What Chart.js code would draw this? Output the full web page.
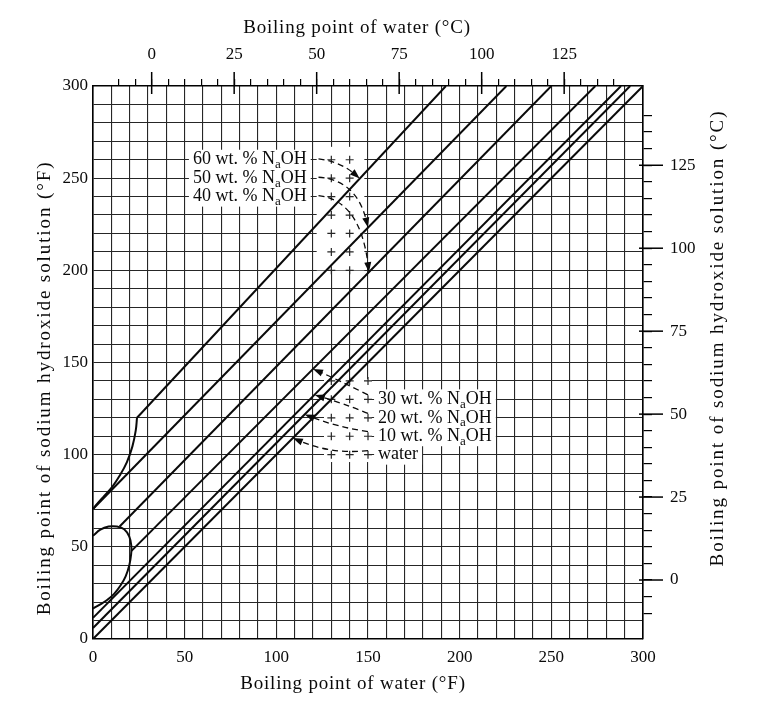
<!DOCTYPE html>
<html>
<head>
<meta charset="utf-8">
<script src="https://cdn.jsdelivr.net/npm/chart.js@4.4.1/dist/chart.umd.min.js"></script>
<style>
  html, body { margin: 0; padding: 0; background: #fff; }
</style>
</head>
<body>
<canvas id="duhring" width="776" height="710"></canvas>
<script>
// Dühring lines for NaOH solutions: boiling point of solution vs boiling point of water, both in °F
const waterPoints  = [[0, 0], [300, 300]]
const naoh10Points = [[0, 6], [293, 300]]
const naoh20Points = [[0, 11.5], [288, 300]]
const naoh30Points = [[21, 47.8], [274, 300]]
const naoh40Points = [[14.5, 61], [250, 300]]
const naoh50Points = [[0, 70.5], [225.5, 300]]
const naoh60Points = [[24, 120], [192.5, 300]]

// low temperature ends (curved limits)
const naoh60Curve = [[0, 70.5], [2, 73], [6, 77.5], [10.5, 82.5], [14.5, 88.5], [18.5, 96], [21.5, 104.5], [23.3, 113], [24, 120]]
const lowCurve = [[0, 56], [4, 59.3], [8.5, 61], [13, 61], [17, 59.5], [19.8, 55.5], [20.9, 50.5], [20.8, 46], [19.8, 40],
                  [17.8, 34], [15, 29], [11.5, 24.5], [7.5, 21], [3.5, 18.5], [0, 16.5]]

const fahrenheitLabelStep = 50
const celsiusLabelStep = 25
const celsiusMajorTicks = [0, 25, 50, 75, 100, 125]

// annotations (°F coordinates)
const noteLabels  = ["60 wt. % NaOH", "50 wt. % NaOH", "40 wt. % NaOH", "30 wt. % NaOH", "20 wt. % NaOH", "10 wt. % NaOH", "water"]
const noteAnchors = [[54.5, 260], [54.5, 250], [54.5, 240], [155.5, 130], [155.5, 120], [155.5, 110], [155.5, 100]]
// start, control, tip
const noteArrows = [
  [[123, 260.5], [135, 259], [145.5, 249.8]],
  [[123, 250.5], [144, 249], [150, 223.2]],
  [[123, 240.5], [146, 238], [150.5, 199]],
  [[150, 132.4], [135, 140], [120, 146.5]],
  [[150, 122.4], [136, 128], [121, 132.4]],
  [[150, 112.5], [133, 115], [115.5, 121.8]],
  [[150, 102.2], [130, 100], [109, 109]]
]
// blank zones with only grid crosses left: xmin, xmax, ymin, ymax
const arrowZones = [[122, 148, 200, 267], [126, 152, 96, 141]]

const fontFamily = "'Liberation Serif', 'Times New Roman', serif"
const gridColor = "#262626"
const inkColor = "#0a0a0a"
const toC = f => (f - 32) / 1.8

const lineDataset = (points, tension) => ({
  data: points.map(p => ({ x: p[0], y: p[1] })),
  showLine: true,
  borderColor: inkColor,
  borderWidth: 2,
  pointRadius: 0,
  tension: tension || 0,
  fill: false
})

function drawNote(ctx, label, px, py, draw) {
  const cut = label.indexOf("NaOH")
  const big = "18px " + fontFamily
  const small = "13px " + fontFamily
  ctx.font = big
  if (cut < 0) {
    if (draw) ctx.fillText(label, px, py)
    return ctx.measureText(label).width
  }
  const head = label.slice(0, cut + 1)
  let w = ctx.measureText(head).width
  if (draw) ctx.fillText(head, px, py)
  ctx.font = small
  if (draw) ctx.fillText("a", px + w, py + 5)
  w += ctx.measureText("a").width
  ctx.font = big
  if (draw) ctx.fillText("OH", px + w, py)
  return w + ctx.measureText("OH").width
}

function drawArrow(ctx, from, ctrl, tip) {
  const ang = Math.atan2(tip[1] - ctrl[1], tip[0] - ctrl[0])
  ctx.setLineDash([6, 4])
  ctx.beginPath()
  ctx.moveTo(from[0], from[1])
  ctx.quadraticCurveTo(ctrl[0], ctrl[1], tip[0] - 6 * Math.cos(ang), tip[1] - 6 * Math.sin(ang))
  ctx.stroke()
  ctx.setLineDash([])
  const len = 10, half = 3.5
  const bx = tip[0] - len * Math.cos(ang), by = tip[1] - len * Math.sin(ang)
  ctx.beginPath()
  ctx.moveTo(tip[0], tip[1])
  ctx.lineTo(bx + half * Math.sin(ang), by - half * Math.cos(ang))
  ctx.lineTo(bx - half * Math.sin(ang), by + half * Math.cos(ang))
  ctx.closePath()
  ctx.fill()
}

const notesPlugin = {
  id: "notes",
  beforeDatasetsDraw(chart) {
    const { ctx, scales: { x, y } } = chart
    ctx.save()
    ctx.fillStyle = "#fff"
    ctx.textBaseline = "middle"
    noteLabels.forEach((label, i) => {
      const px = x.getPixelForValue(noteAnchors[i][0])
      const py = y.getPixelForValue(noteAnchors[i][1])
      const w = drawNote(ctx, label, px, py, false)
      ctx.fillRect(px - 4, py - 10, w + 8, 20)
    })
    arrowZones.forEach(zone => {
      const left = x.getPixelForValue(zone[0]), right = x.getPixelForValue(zone[1])
      const top = y.getPixelForValue(zone[3]), bottom = y.getPixelForValue(zone[2])
      ctx.fillStyle = "#fff"
      ctx.fillRect(left, top, right - left, bottom - top)
      ctx.strokeStyle = gridColor
      ctx.lineWidth = 1.2
      for (let gx = Math.ceil(zone[0] / 10) * 10; gx <= zone[1]; gx += 10) {
        for (let gy = Math.ceil(zone[2] / 10) * 10; gy <= zone[3]; gy += 10) {
          const cx = x.getPixelForValue(gx), cy = y.getPixelForValue(gy)
          ctx.beginPath()
          ctx.moveTo(cx - 4, cy)
          ctx.lineTo(cx + 4, cy)
          ctx.moveTo(cx, cy - 4)
          ctx.lineTo(cx, cy + 4)
          ctx.stroke()
        }
      }
    })
    ctx.restore()
  },
  afterDatasetsDraw(chart) {
    const { ctx, scales: { x, y } } = chart
    const toPx = p => [x.getPixelForValue(p[0]), y.getPixelForValue(p[1])]
    ctx.save()
    ctx.fillStyle = inkColor
    ctx.strokeStyle = inkColor
    ctx.textBaseline = "middle"
    noteLabels.forEach((label, i) => {
      const p = toPx(noteAnchors[i])
      drawNote(ctx, label, p[0], p[1], true)
    })
    ctx.lineWidth = 1.3
    noteArrows.forEach(a => drawArrow(ctx, toPx(a[0]), toPx(a[1]), toPx(a[2])))
    ctx.restore()
  },
  afterDraw(chart) {
    const { ctx, chartArea, scales: { x2, y2 } } = chart
    ctx.save()
    ctx.strokeStyle = "#000"
    ctx.lineWidth = 1.5
    // long ticks at labelled °C values
    celsiusMajorTicks.forEach(c => {
      const tx = x2.getPixelForValue(c)
      ctx.beginPath()
      ctx.moveTo(tx, chartArea.top - 14)
      ctx.lineTo(tx, chartArea.top + 8)
      ctx.stroke()
      const ty = y2.getPixelForValue(c)
      ctx.beginPath()
      ctx.moveTo(chartArea.right - 4, ty)
      ctx.lineTo(chartArea.right + 20, ty)
      ctx.stroke()
    })
    ctx.fillStyle = inkColor
    ctx.textAlign = "center"
    ctx.textBaseline = "middle"
    ctx.font = "19px " + fontFamily
    ctx.letterSpacing = "0.8px"
    ctx.fillText("Boiling point of water (°F)", 353, 684)
    ctx.fillText("Boiling point of water (°C)", 357, 28)
    ctx.letterSpacing = "1.9px"
    ctx.translate(45, 388)
    ctx.rotate(-Math.PI / 2)
    ctx.fillText("Boiling point of sodium hydroxide solution (°F)", 0, 0)
    ctx.setTransform(1, 0, 0, 1, 0, 0)
    ctx.translate(718, 338)
    ctx.rotate(-Math.PI / 2)
    ctx.fillText("Boiling point of sodium hydroxide solution (°C)", 0, 0)
    ctx.restore()
  }
}

const onlySteps = step => scale => {
  scale.ticks = scale.ticks.filter(t => Math.abs(t.value / step - Math.round(t.value / step)) < 1e-6)
}

const tickFont = { family: fontFamily, size: 17 }

new Chart(document.getElementById("duhring"), {
  type: "scatter",
  data: {
    datasets: [
      lineDataset(waterPoints),
      lineDataset(naoh10Points),
      lineDataset(naoh20Points),
      lineDataset(naoh30Points),
      lineDataset(naoh40Points),
      lineDataset(naoh50Points),
      lineDataset(naoh60Points),
      lineDataset(naoh60Curve, 0.4),
      lineDataset(lowCurve, 0.4)
    ]
  },
  options: {
    responsive: false,
    animation: false,
    layout: { padding: 0 },
    plugins: { legend: { display: false }, tooltip: { enabled: false } },
    scales: {
      x: {
        type: "linear",
        position: "bottom",
        min: 0,
        max: 300,
        afterFit: scale => { scale.height = 71 },
        ticks: {
          stepSize: 10,
          color: inkColor,
          font: tickFont,
          padding: 8,
          maxRotation: 0,
          autoSkip: false,
          callback: v => v % fahrenheitLabelStep === 0 ? String(v) : ""
        },
        grid: { color: gridColor, lineWidth: 1.1, drawTicks: false },
        border: { display: true, color: "#000", width: 1.6 }
      },
      y: {
        type: "linear",
        position: "left",
        min: 0,
        max: 300,
        afterFit: scale => { scale.width = 93 },
        ticks: {
          stepSize: 10,
          color: inkColor,
          font: tickFont,
          padding: 5,
          autoSkip: false,
          callback: v => v % fahrenheitLabelStep === 0 ? String(v) : ""
        },
        grid: { color: gridColor, lineWidth: 1.1, drawTicks: false },
        border: { display: true, color: "#000", width: 1.6 }
      },
      x2: {
        type: "linear",
        position: "top",
        min: toC(0),
        max: toC(300),
        afterFit: scale => { scale.height = 86 },
        afterBuildTicks: onlySteps(5),
        ticks: {
          stepSize: 5,
          color: inkColor,
          font: tickFont,
          padding: 14,
          maxRotation: 0,
          autoSkip: false,
          callback: v => Math.round(v) % celsiusLabelStep === 0 ? String(Math.round(v)) : ""
        },
        grid: { drawOnChartArea: false, drawTicks: true, tickLength: 7, color: "#000", lineWidth: 1.2 },
        border: { display: true, color: "#000", width: 1.6 }
      },
      y2: {
        type: "linear",
        position: "right",
        min: toC(0),
        max: toC(300),
        afterFit: scale => { scale.width = 133 },
        afterBuildTicks: onlySteps(5),
        ticks: {
          stepSize: 5,
          color: inkColor,
          font: tickFont,
          padding: 18,
          autoSkip: false,
          callback: v => Math.round(v) % celsiusLabelStep === 0 ? String(Math.round(v)) : ""
        },
        grid: { drawOnChartArea: false, drawTicks: true, tickLength: 9, color: "#000", lineWidth: 1.2 },
        border: { display: true, color: "#000", width: 1.6 }
      }
    }
  },
  plugins: [notesPlugin]
})
</script>
</body>
</html>
